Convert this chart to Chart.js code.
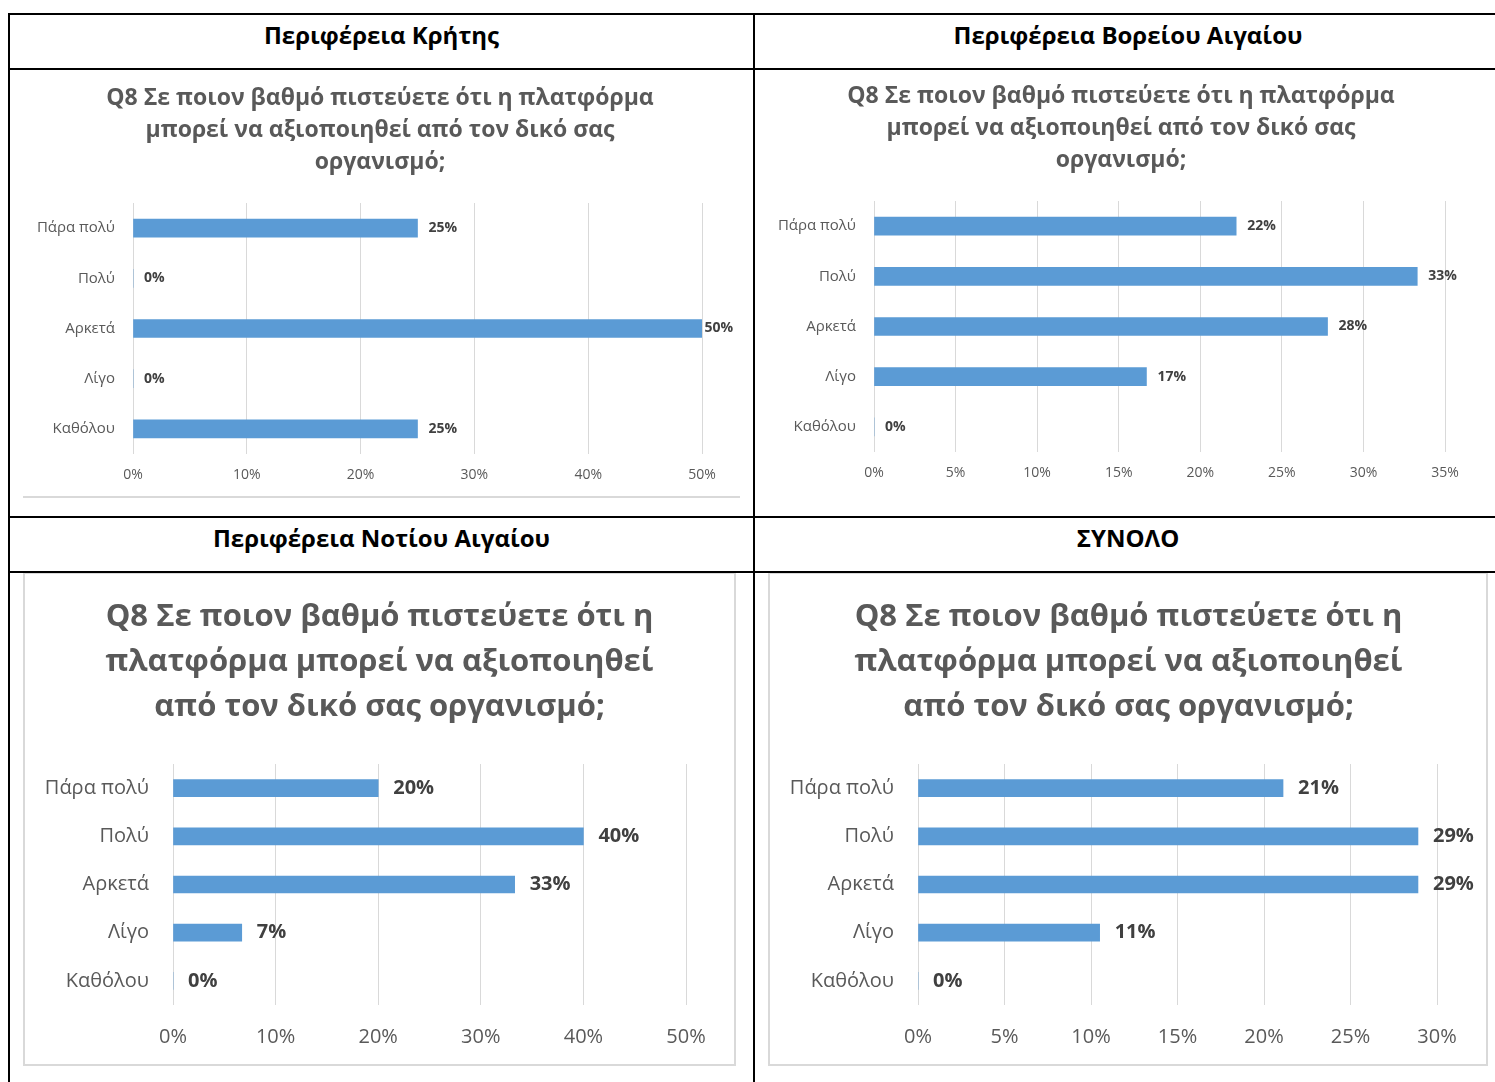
<!DOCTYPE html>
<html>
<head>
<meta charset="utf-8">
<script src="https://cdn.jsdelivr.net/npm/chart.js@4.4.0/dist/chart.umd.min.js"></script>
<style>
  body { margin: 0; background: #fff; width: 1495px; height: 1082px; overflow: hidden; position: relative; font-family: "Open Sans", sans-serif; }
  .line { position: absolute; background: #000; z-index: 3; }
  .head { position: absolute; text-align: center; font-weight: bold; font-size: 24px; color: #000; height: 40px; line-height: 40px; }
  .box { position: absolute; box-sizing: border-box; border: 2px solid #d9d9d9; }
  canvas { position: absolute; }
</style>
</head>
<body>
<!-- table lines -->
<div class="line" style="left:8px;top:13px;width:1487px;height:2px"></div>
<div class="line" style="left:8px;top:68px;width:1487px;height:2px"></div>
<div class="line" style="left:8px;top:516px;width:1487px;height:2px"></div>
<div class="line" style="left:8px;top:571px;width:1487px;height:2px"></div>
<div class="line" style="left:8px;top:13px;width:2px;height:1069px"></div>
<div class="line" style="left:753px;top:13px;width:2px;height:1069px"></div>

<div class="head" style="left:10px;top:15px;width:743px">Περιφέρεια Κρήτης</div>
<div class="head" style="left:755px;top:15px;width:746px">Περιφέρεια Βορείου Αιγαίου</div>
<div class="head" style="left:10px;top:518px;width:743px">Περιφέρεια Νοτίου Αιγαίου</div>
<div class="head" style="left:755px;top:518px;width:746px">ΣΥΝΟΛΟ</div>

<!-- chart frames -->
<div style="position:absolute;left:23px;top:496px;width:717px;height:2px;background:#d9d9d9"></div>
<div class="box" style="left:23px;top:572px;width:713px;height:494px"></div>
<div class="box" style="left:768px;top:572px;width:720px;height:494px"></div>

<canvas id="kriti" style="left:23px;top:72px"></canvas>
<canvas id="voreiou" style="left:760px;top:72px"></canvas>
<canvas id="notiou" style="left:25px;top:574px"></canvas>
<canvas id="synolo" style="left:771px;top:574px"></canvas>

<script>
const categories = ["Πάρα πολύ", "Πολύ", "Αρκετά", "Λίγο", "Καθόλου"];

const kritiValues = [25, 0, 50, 0, 25];
const voreiouValues = [22.2, 33.3, 27.8, 16.7, 0];
const notiouValues = [20, 40, 33.3, 6.7, 0];
const synoloValues = [21.1, 28.9, 28.9, 10.5, 0];

const kritiTicks = [0, 10, 20, 30, 40, 50];
const voreiouTicks = [0, 5, 10, 15, 20, 25, 30, 35];
const notiouTicks = [0, 10, 20, 30, 40, 50];
const synoloTicks = [0, 5, 10, 15, 20, 25, 30];

const smallTitle = [
  "Q8 Σε ποιον βαθμό πιστεύετε ότι η πλατφόρμα",
  "μπορεί να αξιοποιηθεί από τον δικό σας",
  "οργανισμό;",
];
const bigTitle = [
  "Q8 Σε ποιον βαθμό πιστεύετε ότι η",
  "πλατφόρμα μπορεί να αξιοποιηθεί",
  "από τον δικό σας οργανισμό;",
];

const FONT = '"Open Sans", sans-serif';

// τίτλος στο κέντρο του καμβά (όχι της περιοχής σχεδίασης)
const centerTitle = {
  id: "centerTitle",
  afterDraw(chart, args, opts) {
    const ctx = chart.ctx;
    ctx.save();
    ctx.font = "bold " + opts.size + "px " + FONT;
    ctx.fillStyle = "#595959";
    ctx.textAlign = "center";
    ctx.textBaseline = "middle";
    opts.lines.forEach((line, i) => {
      ctx.fillText(line, chart.width / 2, opts.top + i * opts.step);
    });
    ctx.restore();
  },
};

// ετικέτες τιμών δεξιά από κάθε μπάρα
const valueLabels = {
  id: "valueLabels",
  afterDatasetsDraw(chart, args, opts) {
    const ctx = chart.ctx;
    const meta = chart.getDatasetMeta(0);
    const data = chart.data.datasets[0].data;
    ctx.save();
    ctx.font = "bold " + opts.size + "px " + FONT;
    ctx.fillStyle = "#404040";
    ctx.textBaseline = "middle";
    ctx.textAlign = "left";
    meta.data.forEach((bar, i) => {
      const text = Math.round(data[i]) + "%";
      const w = ctx.measureText(text).width;
      let x = bar.x + opts.offset;
      if (x + w > chart.width - 4) x = chart.width - 4 - w;
      ctx.fillText(text, x, bar.y);
    });
    ctx.restore();
  },
};

function makeChart(id, values, ticks, title, s) {
  const canvas = document.getElementById(id);
  canvas.width = s.w;
  canvas.height = s.h;
  canvas.style.width = s.w + "px";
  canvas.style.height = s.h + "px";

  return new Chart(canvas, {
    type: "bar",
    data: {
      labels: categories,
      datasets: [
        {
          data: values,
          backgroundColor: "#5b9bd5",
          borderWidth: 0,
          barThickness: s.bar,
        },
      ],
    },
    options: {
      indexAxis: "y",
      responsive: false,
      animation: false,
      layout: { padding: { left: 0, right: s.padR, top: s.plotTop, bottom: 0 } },
      plugins: {
        legend: { display: false },
        tooltip: { enabled: false },
        title: { display: false },
        centerTitle: { lines: title, size: s.titleSize, top: s.titleTop, step: s.titleLine },
        valueLabels: { size: s.labelSize, offset: s.offset },
      },
      scales: {
        x: {
          min: ticks[0],
          max: ticks[ticks.length - 1],
          ticks: {
            stepSize: ticks[1] - ticks[0],
            callback: (v) => v + "%",
            color: "#595959",
            font: { family: FONT, size: s.tickSize },
            padding: s.tickPad,
            maxRotation: 0,
          },
          grid: { color: "#d9d9d9", lineWidth: 1, drawTicks: false },
          border: { display: false },
          afterFit: (scale) => { scale.height = s.xH; },
        },
        y: {
          ticks: {
            color: "#595959",
            font: { family: FONT, size: s.catSize },
            padding: s.catPad,
          },
          grid: { display: false, drawTicks: false },
          border: { display: false },
          afterFit: (scale) => { scale.width = s.yW; },
        },
      },
    },
    plugins: [valueLabels, centerTitle],
  });
}

makeChart("kriti", kritiValues, kritiTicks, smallTitle, {
  w: 714, h: 425, padR: 35, yW: 110, xH: 43, plotTop: 131, bar: 18,
  titleSize: 23, titleLine: 32, titleTop: 26,
  tickSize: 14, tickPad: 13, catSize: 15, catPad: 18, labelSize: 14, offset: 11,
});
makeChart("voreiou", voreiouValues, voreiouTicks, smallTitle, {
  w: 722, h: 440, padR: 37, yW: 114, xH: 60, plotTop: 129, bar: 18,
  titleSize: 23, titleLine: 32, titleTop: 24,
  tickSize: 14, tickPad: 13, catSize: 15, catPad: 18, labelSize: 14, offset: 11,
});
makeChart("notiou", notiouValues, notiouTicks, bigTitle, {
  w: 709, h: 490, padR: 48, yW: 148, xH: 59, plotTop: 190, bar: 17,
  titleSize: 31, titleLine: 45, titleTop: 43,
  tickSize: 20, tickPad: 20, catSize: 20, catPad: 24, labelSize: 20, offset: 15,
});
makeChart("synolo", synoloValues, synoloTicks, bigTitle, {
  w: 715, h: 490, padR: 49, yW: 147, xH: 59, plotTop: 190, bar: 17,
  titleSize: 31, titleLine: 45, titleTop: 43,
  tickSize: 20, tickPad: 20, catSize: 20, catPad: 24, labelSize: 20, offset: 15,
});
</script>
</body>
</html>
